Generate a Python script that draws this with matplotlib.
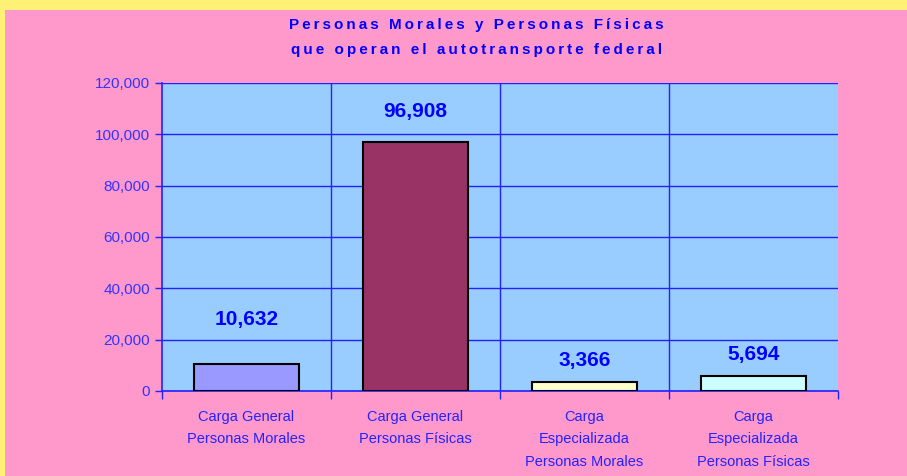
import matplotlib
matplotlib.use("Agg")
import matplotlib.pyplot as plt
import numpy as np

categories = ["Carga General\nPersonas Morales", "Carga General\nPersonas Físicas",
              "Carga\nEspecializada\nPersonas Morales", "Carga\nEspecializada\nPersonas Físicas"]
values = [10632, 96908, 3366, 5694]
bar_colors = ["#9999FF", "#993366", "#FFFFCC", "#CCFFFF"]
label_offsets = [25, 15, 9, 9]
yticks = [0, 20000, 40000, 60000, 80000, 100000, 120000]
title_lines = ["Personas Morales y Personas Físicas", "que operan el autotransporte federal"]

plt.rcParams['font.family'] = ['Liberation Sans', 'DejaVu Sans']

fig = plt.figure(figsize=(9.07, 4.76), dpi=100)
fig.patch.set_facecolor("#FFF176")
# pink inner panel
fig.patches.append(plt.Rectangle((5/907, 0), 1, 1 - 10/476, transform=fig.transFigure,
                                 facecolor="#FF99CC", edgecolor="none", zorder=-10))

ax = fig.add_axes([162/907, 1 - 391/476, (838-162)/907, (391-83)/476])
ax.set_zorder(2)
ax.set_facecolor("#99CCFF")
x = np.arange(len(values))
ax.bar(x, values, width=0.62, color=bar_colors, edgecolor="black", linewidth=1.5, zorder=3)
ax.set_xlim(-0.5, len(values) - 0.5)
ax.set_ylim(0, 120000)
ax.set_yticks(yticks)
ax.set_yticklabels([f"{v:,}" for v in yticks], color="#3333FF", fontsize=11)
ax.yaxis.grid(True, color="#2222FF", linewidth=1, zorder=1)
# category boundaries
bounds = np.arange(len(values) + 1) - 0.5
for b in bounds[1:-1]:
    ax.axvline(b, color="#2222FF", linewidth=1, zorder=1)
ax.set_xticks(bounds)
ax.set_xticklabels([""] * len(bounds))
ax.set_xticks(x, minor=True)
ax.set_xticklabels(categories, minor=True, color="#2222FF", fontsize=10.5, linespacing=1.78)
ax.tick_params(axis="x", which="minor", length=0, pad=13.5)
ax.tick_params(axis="x", which="major", length=6, color="#2222FF", width=1)
ax.tick_params(axis="y", length=5, color="#2222FF", width=1)
for s in ["top", "right"]:
    ax.spines[s].set_visible(False)
for s in ["left", "bottom"]:
    ax.spines[s].set_color("#2222FF")
    ax.spines[s].set_linewidth(1.2)

for xi, v, off in zip(x, values, label_offsets):
    ax.annotate(f"{v:,}", (xi, v), xytext=(0, off), textcoords="offset points",
                ha="center", va="bottom", fontsize=15, fontweight="bold", color="#0000FF")

for i, line in enumerate(title_lines):
    spaced = "\u2009".join(line)
    fig.text(0.525, 1 - (25 + 25 * i)/476, spaced, ha="center", va="center",
             fontsize=11, fontweight="bold", color="#0000FF")

fig.savefig("out.png", dpi=100, facecolor=fig.get_facecolor())
